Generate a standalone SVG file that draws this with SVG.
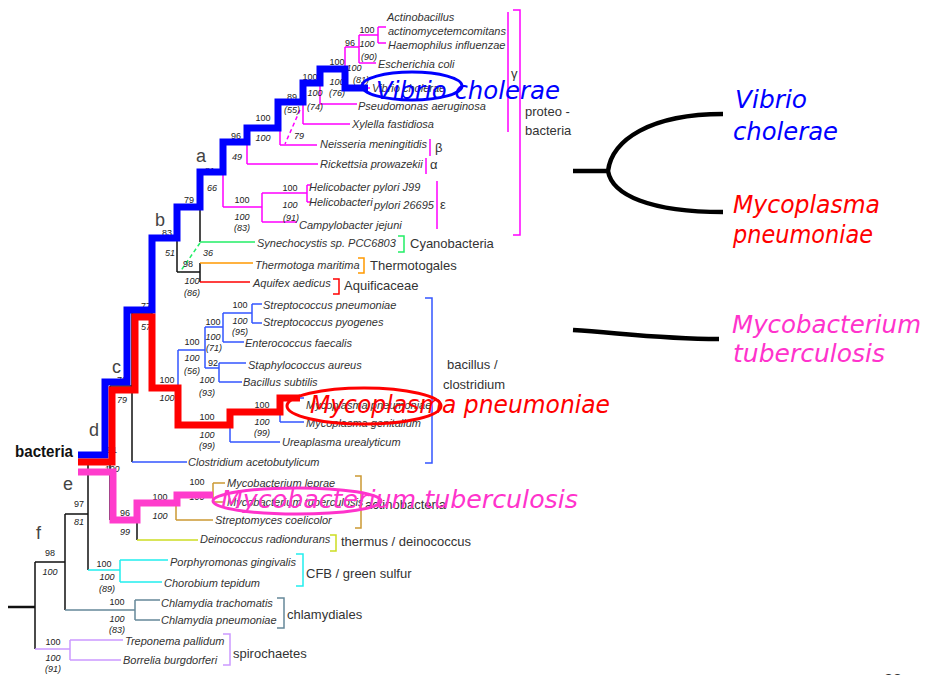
<svg xmlns="http://www.w3.org/2000/svg" width="927" height="675" viewBox="0 0 927 675">
<style>
.t{font-family:"Liberation Sans",Arial,sans-serif;font-style:italic;font-size:11px;fill:#333}
.g{font-family:"Liberation Sans",Arial,sans-serif;font-size:13px;fill:#333}
.b{font-family:"Liberation Sans",Arial,sans-serif;font-size:9px;fill:#222;text-anchor:middle}
.bi{font-family:"Liberation Sans",Arial,sans-serif;font-size:9px;fill:#222;text-anchor:middle;font-style:italic}
.L{font-family:"Liberation Sans",Arial,sans-serif;font-size:18px;fill:#444}
.big{font-family:"Comic Sans MS","DejaVu Sans",sans-serif;font-style:italic;font-size:25px}
.ln{fill:none;stroke-width:1.5}
.pk{stroke:#ff00ff}.bk{stroke:#111}.gr{stroke:#22ee66}.or{stroke:#ff9900}.rd{stroke:#ff0000}.bl{stroke:#3355ff}
.gd{stroke:#cc9933}.yg{stroke:#ccdd22}.cy{stroke:#22eeee}.sl{stroke:#668899}.lv{stroke:#cc99ff}
.thick{fill:none;stroke-width:7;stroke-linejoin:miter}
.ell{fill:none;stroke-width:3}
</style>

<g id="connectors">
  <!-- proteobacteria -->
  <path class="ln pk" d="M378,27V43M378,27H386M378,43H386M359,35V63M359,35H378M359,63H376M345,47V88M345,47H359M345,88H370M320,68V104M320,68H345M320,104H357M303,83V124M303,83H320M303,124H350M280,102V145M280,102H303M280,145H317M247,128V164M247,128H280M247,164H318M223,142V207M223,142H247M223,207H262M262,193V222M262,193H307M262,222H297M307,185V202M307,185H311M307,202H311M200,172H223"/>
  <path class="ln pk" d="M300,110L285,144" stroke-dasharray="4,3"/>
  <!-- backbone -->
  <path class="ln bk" d="M200,172V242M177,207V272M177,272H200M200,263V282M152,238H177M152,238V388M132,313V462M132,313H152M110,386H132M110,386V520M88,463H110M88,463V570M65,514H88M65,514V610M35,562H65M35,562V649M113,520H137M137,503V540"/>
  <path class="bk" d="M8,607H35" stroke-width="2.5" fill="none"/>
  <path class="ln gr" d="M200,242H255"/>
  <path class="ln gr" d="M200,243L180,272" stroke-dasharray="4,3"/>
  <path class="ln or" d="M200,263H253"/>
  <path class="ln rd" d="M200,282H250"/>
  <!-- firmicutes -->
  <path class="ln bl" d="M178,350V425M178,350H205M205,327V368M205,327H223M205,368H219M223,313V342M223,313H252M223,342H244M252,304V323M252,304H262M252,323H262M219,363V382M219,363H246M219,382H242M178,425H230M230,412V442M230,442H280M230,412H280M280,398V422M280,398H304M280,422H304M132,462H187"/>
  <!-- actinobacteria / deinococcus -->
  <path class="ln gd" d="M137,503H176M176,495V520M176,520H213M176,495H213M213,483V502M213,483H225M213,502H225"/>
  <path class="ln yg" d="M137,540H198"/>
  <path class="ln cy" d="M88,570H120M120,560V582M120,560H168M120,582H162"/>
  <path class="ln sl" d="M65,610H135M135,600V620M135,600H160M135,620H160"/>
  <path class="ln lv" d="M35,649H70M70,640V660M70,640H123M70,660H121"/>
  <!-- brackets -->
  <path class="ln pk" d="M513,10H520V235H513M508,12V132M430,139V156M426,158V174M437,181V229"/>
  <path class="ln gr" d="M398,236H404V252H398"/>
  <path class="ln or" d="M358,258H364V273H358"/>
  <path class="ln rd" d="M333,279H339V294H333"/>
  <path class="ln bl" d="M425,298H432V463H425"/>
  <path class="ln gd" d="M355,476H361V528H355"/>
  <path class="ln yg" d="M330,535H336V551H330"/>
  <path class="ln cy" d="M296,554H303V586H296"/>
  <path class="ln sl" d="M277,598H284V628H277"/>
  <path class="ln lv" d="M223,634H230V665H223"/>
</g>

<g id="taxa">
  <text class="t" x="387" y="21">Actinobacillus</text>
  <text class="t" x="388" y="35">actinomycetemcomitans</text>
  <text class="t" x="388" y="49">Haemophilus influenzae</text>
  <text class="t" x="378" y="68">Escherichia coli</text>
  <text class="t" x="372" y="92">Vibrio cholerae</text>
  <text class="t" x="358" y="110">Pseudomonas aeruginosa</text>
  <text class="t" x="352" y="128">Xylella fastidiosa</text>
  <text class="t" x="320" y="148">Neisseria meningitidis</text>
  <text class="t" x="320" y="168">Rickettsia prowazekii</text>
  <text class="t" x="309" y="191">Helicobacter pylori J99</text>
  <text class="t" x="309" y="206">Helicobacteri</text>
  <text class="t" x="374" y="209">pylori 26695</text>
  <text class="t" x="299" y="229">Campylobacter jejuni</text>
  <text class="t" x="257" y="247">Synechocystis sp. PCC6803</text>
  <text class="t" x="255" y="269">Thermotoga maritima</text>
  <text class="t" x="253" y="287">Aquifex aedicus</text>
  <text class="t" x="263" y="309">Streptococcus pneumoniae</text>
  <text class="t" x="263" y="326">Streptococcus pyogenes</text>
  <text class="t" x="245" y="347">Enterococcus faecalis</text>
  <text class="t" x="248" y="369">Staphylococcus aureus</text>
  <text class="t" x="243" y="386">Bacillus subtilis</text>
  <text class="t" x="306" y="409">Mycoplasma pneumoniae</text>
  <text class="t" x="306" y="427">Mycoplasma genitalium</text>
  <text class="t" x="282" y="446">Ureaplasma urealyticum</text>
  <text class="t" x="188" y="466">Clostridium acetobutylicum</text>
  <text class="t" x="227" y="487">Mycobacterium leprae</text>
  <text class="t" x="227" y="506">Mycobacterium tuberculosis</text>
  <text class="t" x="215" y="524">Streptomyces coelicolor</text>
  <text class="t" x="200" y="543">Deinococcus radiondurans</text>
  <text class="t" x="170" y="566">Porphyromonas gingivalis</text>
  <text class="t" x="164" y="587">Chorobium tepidum</text>
  <text class="t" x="161" y="607">Chlamydia trachomatis</text>
  <text class="t" x="161" y="624">Chlamydia pneumoniae</text>
  <text class="t" x="125" y="645">Treponema pallidum</text>
  <text class="t" x="123" y="664">Borrelia burgdorferi</text>
</g>

<g id="groups">
  <text class="g" x="511" y="78" font-size="11">γ</text>
  <text class="g" x="525" y="116">proteo -</text>
  <text class="g" x="525" y="135">bacteria</text>
  <text class="g" x="435" y="152" font-family="Liberation Serif">β</text>
  <text class="g" x="430" y="169" font-family="Liberation Serif">α</text>
  <text class="g" x="440" y="209" font-size="11" font-family="Liberation Serif">ε</text>
  <text class="g" x="410" y="248">Cyanobacteria</text>
  <text class="g" x="370" y="270">Thermotogales</text>
  <text class="g" x="344" y="290">Aquificaceae</text>
  <text class="g" x="447" y="369">bacillus /</text>
  <text class="g" x="443" y="389">clostridium</text>
  <text class="g" x="365" y="509">actinobacteria</text>
  <text class="g" x="341" y="546">thermus / deinococcus</text>
  <text class="g" x="306" y="578">CFB / green sulfur</text>
  <text class="g" x="287" y="619">chlamydiales</text>
  <text class="g" x="233" y="658">spirochaetes</text>
</g>

<g id="letters">
  <text class="L" x="196" y="162">a</text>
  <text class="L" x="155" y="226">b</text>
  <text class="L" x="112" y="373">c</text>
  <text class="L" x="89" y="436">d</text>
  <text class="L" x="63" y="490">e</text>
  <text class="L" x="36" y="539">f</text>
  <text x="15" y="457" font-family="Liberation Sans,Arial,sans-serif" font-weight="bold" font-size="17" fill="#111" textLength="58" lengthAdjust="spacingAndGlyphs">bacteria</text>
</g>

<g id="support">
  <text class="b" x="367" y="33">100</text><text class="bi" x="367" y="47">100</text><text class="bi" x="369" y="60">(90)</text>
  <text class="b" x="350" y="46">96</text><text class="bi" x="354" y="71">100</text><text class="bi" x="361" y="83">(81)</text>
  <text class="b" x="337" y="65">100</text><text class="bi" x="337" y="85">100</text><text class="bi" x="337" y="96">(76)</text>
  <text class="b" x="310" y="80">100</text><text class="bi" x="315" y="96">100</text><text class="bi" x="315" y="110">(74)</text>
  <text class="b" x="292" y="100">89</text><text class="bi" x="292" y="113">(55)</text>
  <text class="b" x="263" y="121">100</text><text class="bi" x="263" y="141">100</text>
  <text class="bi" x="299" y="139">79</text>
  <text class="b" x="236" y="139">96</text><text class="bi" x="237" y="160">49</text>
  <text class="b" x="210" y="174">81</text><text class="bi" x="212" y="191">66</text>
  <text class="b" x="242" y="203">100</text><text class="bi" x="242" y="220">100</text><text class="bi" x="242" y="231">(83)</text>
  <text class="b" x="290" y="191">100</text><text class="bi" x="290" y="208">100</text><text class="bi" x="291" y="221">(91)</text>
  <text class="b" x="189" y="203">79</text>
  <text class="b" x="167" y="236">83</text><text class="bi" x="170" y="256">51</text>
  <text class="bi" x="208" y="256">36</text>
  <text class="b" x="188" y="267">98</text><text class="bi" x="192" y="284">100</text><text class="bi" x="192" y="296">(86)</text>
  <text class="b" x="146" y="309">77</text><text class="bi" x="146" y="330">57</text>
  <text class="b" x="167" y="383">100</text><text class="bi" x="167" y="401">100</text>
  <text class="b" x="192" y="345">100</text><text class="bi" x="192" y="361">100</text><text class="bi" x="192" y="374">(56)</text>
  <text class="b" x="213" y="325">100</text><text class="bi" x="213" y="340">100</text><text class="bi" x="214" y="351">(71)</text>
  <text class="b" x="240" y="308">100</text><text class="bi" x="240" y="324">100</text><text class="bi" x="240" y="335">(95)</text>
  <text class="b" x="213" y="366">92</text><text class="bi" x="207" y="383">100</text><text class="bi" x="207" y="396">(93)</text>
  <text class="b" x="207" y="420">100</text><text class="bi" x="207" y="438">100</text><text class="bi" x="207" y="449">(99)</text>
  <text class="b" x="262" y="408">100</text><text class="bi" x="262" y="425">100</text><text class="bi" x="262" y="436">(99)</text>
  <text class="b" x="122" y="383">76</text><text class="bi" x="122" y="403">79</text>
  <text class="b" x="112" y="453">91</text><text class="bi" x="112" y="472">100</text>
  <text class="b" x="125" y="516">96</text><text class="bi" x="125" y="535">99</text>
  <text class="b" x="160" y="500">100</text><text class="bi" x="160" y="519">100</text>
  <text class="b" x="197" y="485">100</text><text class="bi" x="197" y="500">100</text>
  <text class="b" x="79" y="507">97</text><text class="bi" x="79" y="525">81</text>
  <text class="b" x="50" y="556">98</text><text class="bi" x="50" y="575">100</text>
  <text class="b" x="104" y="567">100</text><text class="bi" x="107" y="580">100</text><text class="bi" x="107" y="592">(89)</text>
  <text class="b" x="117" y="605">100</text><text class="bi" x="117" y="622">100</text><text class="bi" x="117" y="633">(83)</text>
  <text class="b" x="53" y="645">100</text><text class="bi" x="53" y="661">100</text><text class="bi" x="53" y="672">(91)</text>
</g>

<g id="highlights">
  <path class="thick" stroke="#0000ff" d="M78,455H105V382H127V310H152V238H177V207H200V172H223V142H247V128H278V102H303V83H320V69H345V88H368"/>
  <path class="thick" stroke="#ff0000" d="M78,462H112V390H135V317H152V388H178V425H230V412H280V398H300"/>
  <path class="thick" stroke="#ff3ccc" d="M78,472H113V520H137V503H177V495H213"/>
  <ellipse class="ell" stroke="#0000ff" cx="412" cy="86" rx="50" ry="14"/>
  <ellipse class="ell" stroke="#ff0000" cx="364" cy="406" rx="77" ry="18"/>
  <ellipse class="ell" stroke="#ff33cc" cx="297" cy="501" rx="84" ry="13"/>
  <text class="big" x="376" y="99" fill="#0000ff" textLength="184" lengthAdjust="spacingAndGlyphs">Vibrio cholerae</text>
  <text class="big" x="310" y="413" fill="#ff0000" textLength="300" lengthAdjust="spacingAndGlyphs">Mycoplasma pneumoniae</text>
  <text class="big" x="221" y="508" fill="#ff33cc" font-size="24" textLength="357" lengthAdjust="spacingAndGlyphs">Mycobacterium tuberculosis</text>
</g>

<g id="summary">
  <path d="M573,171H608M723,114C650,114 612,140 608,171C612,195 650,212 723,212" fill="none" stroke="#000" stroke-width="4.5"/>
  <path d="M573,330C620,333 660,339 719,339" fill="none" stroke="#000" stroke-width="4.5"/>
  <text class="big" x="735" y="108" fill="#0000ff" textLength="72" lengthAdjust="spacingAndGlyphs">Vibrio</text>
  <text class="big" x="733" y="140" fill="#0000ff" textLength="105" lengthAdjust="spacingAndGlyphs">cholerae</text>
  <text class="big" x="733" y="213" fill="#ff0000" textLength="147" lengthAdjust="spacingAndGlyphs">Mycoplasma</text>
  <text class="big" x="733" y="243" fill="#ff0000" textLength="140" lengthAdjust="spacingAndGlyphs">pneumoniae</text>
  <text class="big" x="732" y="333" fill="#ff33cc" textLength="189" lengthAdjust="spacingAndGlyphs">Mycobacterium</text>
  <text class="big" x="733" y="362" fill="#ff33cc" textLength="152" lengthAdjust="spacingAndGlyphs">tuberculosis</text>
</g>

<text x="884" y="686" font-family="Liberation Sans,Arial,sans-serif" font-size="16" fill="#333">23</text>
</svg>
